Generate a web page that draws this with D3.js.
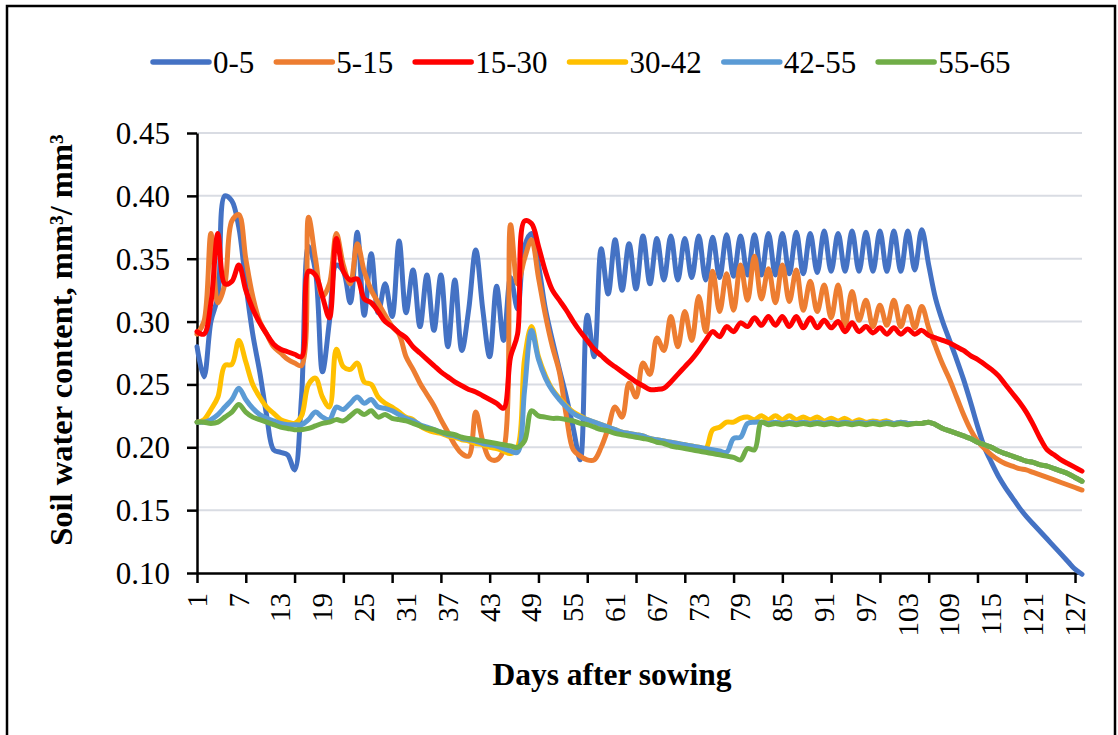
<!DOCTYPE html>
<html>
<head>
<meta charset="utf-8">
<script src="https://cdn.jsdelivr.net/npm/d3@7"></script>
<style>
body { margin: 0; background: #fff; }
text { font-family: "Liberation Serif", "Times New Roman", serif; fill: #000; }
</style>
</head>
<body>
<div id="chart"></div>
<script>
var seriesNames = ["0-5", "5-15", "15-30", "30-42", "42-55", "55-65"];
var seriesColors = ["#4472C4", "#ED7D31", "#FF0000", "#FFC000", "#5B9BD5", "#70AD47"];
var days = d3.range(1, 129);
var labelDays = [1, 7, 13, 19, 25, 31, 37, 43, 49, 55, 61, 67, 73, 79, 85, 91, 97, 103, 109, 115, 121, 127];
var tickDays = [1, 8, 15, 22, 29, 36, 43, 50, 57, 64, 71, 78, 85, 92, 99, 106, 113, 120, 127];
var yTicks = [0.10, 0.15, 0.20, 0.25, 0.30, 0.35, 0.40, 0.45];

var s0_5 = [
	0.280,0.256,0.300,0.320,0.400,0.396,0.375,0.330,0.290,0.260,0.225,0.198,0.196,0.194,0.182,0.240,
	0.360,0.340,0.260,0.300,0.345,0.340,0.315,0.371,0.305,0.354,0.307,0.330,0.304,0.364,0.307,0.341,
	0.296,0.337,0.293,0.337,0.280,0.333,0.277,0.310,0.357,0.310,0.272,0.328,0.285,0.335,0.310,0.360,
	0.370,0.345,0.310,0.285,0.262,0.240,0.215,0.190,0.305,0.272,0.358,0.322,0.365,0.325,0.362,0.326,
	0.368,0.330,0.366,0.333,0.368,0.333,0.366,0.335,0.368,0.333,0.367,0.335,0.369,0.336,0.368,0.337,
	0.369,0.337,0.370,0.337,0.370,0.338,0.371,0.338,0.370,0.339,0.372,0.340,0.370,0.340,0.372,0.340,
	0.371,0.340,0.372,0.340,0.372,0.340,0.372,0.341,0.373,0.345,0.318,0.300,0.285,0.270,0.254,0.236,
	0.217,0.200,0.188,0.177,0.168,0.160,0.152,0.145,0.139,0.133,0.127,0.121,0.115,0.109,0.103,0.099];
var s5_15 = [
	0.290,0.300,0.370,0.315,0.330,0.380,0.385,0.350,0.320,0.300,0.290,0.280,0.275,0.270,0.267,0.265,
	0.383,0.350,0.320,0.330,0.370,0.345,0.330,0.362,0.340,0.325,0.315,0.305,0.296,0.290,0.272,0.262,
	0.251,0.242,0.233,0.222,0.212,0.202,0.195,0.193,0.228,0.205,0.191,0.190,0.198,0.377,0.330,0.350,
	0.365,0.335,0.305,0.280,0.260,0.225,0.198,0.193,0.190,0.190,0.200,0.215,0.232,0.224,0.251,0.240,
	0.267,0.258,0.287,0.277,0.304,0.280,0.308,0.285,0.320,0.292,0.340,0.308,0.338,0.309,0.345,0.317,
	0.352,0.318,0.342,0.315,0.345,0.316,0.341,0.309,0.332,0.308,0.329,0.303,0.329,0.297,0.324,0.301,
	0.317,0.296,0.313,0.297,0.317,0.296,0.312,0.295,0.312,0.295,0.280,0.266,0.254,0.240,0.226,0.214,
	0.205,0.199,0.194,0.190,0.187,0.185,0.183,0.182,0.180,0.178,0.176,0.174,0.172,0.170,0.168,0.166];
var s15_30 = [
	0.292,0.290,0.315,0.370,0.330,0.332,0.345,0.325,0.310,0.299,0.290,0.282,0.278,0.276,0.274,0.272,
	0.340,0.337,0.320,0.303,0.366,0.340,0.333,0.334,0.318,0.315,0.308,0.300,0.296,0.291,0.287,0.280,
	0.275,0.270,0.265,0.260,0.256,0.252,0.249,0.246,0.244,0.241,0.238,0.235,0.231,0.272,0.290,0.380,
	0.378,0.360,0.340,0.325,0.317,0.309,0.300,0.292,0.285,0.278,0.273,0.268,0.264,0.260,0.256,0.252,
	0.249,0.246,0.246,0.247,0.252,0.258,0.264,0.270,0.277,0.285,0.292,0.288,0.296,0.292,0.299,0.296,
	0.303,0.297,0.304,0.297,0.304,0.296,0.304,0.295,0.303,0.295,0.301,0.295,0.300,0.292,0.299,0.292,
	0.296,0.291,0.295,0.290,0.295,0.290,0.294,0.290,0.293,0.289,0.287,0.285,0.283,0.280,0.277,0.273,
	0.270,0.266,0.262,0.257,0.250,0.243,0.236,0.228,0.218,0.207,0.198,0.194,0.190,0.187,0.184,0.181];
var s30_42 = [
	0.220,0.222,0.230,0.240,0.265,0.266,0.285,0.268,0.250,0.240,0.232,0.227,0.222,0.220,0.219,0.225,
	0.250,0.255,0.240,0.232,0.278,0.264,0.262,0.267,0.252,0.250,0.240,0.235,0.232,0.228,0.224,0.222,
	0.217,0.214,0.212,0.211,0.209,0.208,0.206,0.205,0.203,0.202,0.200,0.199,0.197,0.195,0.200,0.270,
	0.296,0.272,0.257,0.246,0.239,0.233,0.228,0.225,0.222,0.220,0.218,0.216,0.214,0.212,0.211,0.210,
	0.209,0.207,0.206,0.205,0.204,0.203,0.202,0.201,0.200,0.199,0.214,0.216,0.220,0.220,0.223,0.224,
	0.222,0.225,0.222,0.225,0.222,0.225,0.222,0.224,0.222,0.224,0.221,0.223,0.221,0.223,0.220,0.222,
	0.220,0.221,0.220,0.221,0.219,0.220,0.219,0.219,0.219,0.220,0.218,0.215,0.213,0.211,0.209,0.207,
	0.204,0.202,0.200,0.197,0.195,0.193,0.191,0.189,0.188,0.186,0.185,0.183,0.181,0.179,0.176,0.173];
var s42_55 = [
	0.220,0.220,0.222,0.226,0.232,0.238,0.247,0.238,0.231,0.226,0.223,0.221,0.219,0.218,0.218,0.218,
	0.222,0.228,0.224,0.222,0.232,0.230,0.235,0.240,0.235,0.238,0.232,0.231,0.229,0.226,0.223,0.221,
	0.218,0.216,0.214,0.212,0.210,0.209,0.207,0.206,0.205,0.203,0.202,0.201,0.199,0.197,0.196,0.245,
	0.293,0.270,0.255,0.245,0.238,0.232,0.227,0.224,0.222,0.220,0.218,0.216,0.214,0.212,0.211,0.210,
	0.209,0.207,0.206,0.205,0.204,0.203,0.202,0.201,0.200,0.199,0.198,0.197,0.196,0.207,0.208,0.219,
	0.220,0.220,0.219,0.220,0.219,0.220,0.219,0.220,0.219,0.220,0.219,0.220,0.219,0.220,0.219,0.220,
	0.219,0.220,0.219,0.220,0.219,0.220,0.219,0.219,0.219,0.220,0.218,0.215,0.213,0.211,0.209,0.207,
	0.204,0.202,0.200,0.197,0.195,0.193,0.191,0.189,0.188,0.186,0.185,0.183,0.181,0.179,0.176,0.173];
var s55_65 = [
	0.220,0.220,0.219,0.220,0.224,0.228,0.234,0.228,0.224,0.222,0.220,0.218,0.216,0.215,0.214,0.214,
	0.215,0.217,0.219,0.220,0.222,0.221,0.225,0.229,0.226,0.229,0.224,0.226,0.223,0.222,0.221,0.219,
	0.217,0.215,0.214,0.212,0.211,0.210,0.208,0.207,0.206,0.205,0.204,0.203,0.202,0.201,0.200,0.205,
	0.229,0.225,0.224,0.223,0.223,0.222,0.221,0.219,0.218,0.216,0.214,0.213,0.211,0.210,0.209,0.208,
	0.207,0.206,0.204,0.203,0.201,0.200,0.199,0.198,0.197,0.196,0.195,0.194,0.193,0.192,0.190,0.199,
	0.198,0.220,0.218,0.219,0.218,0.219,0.218,0.219,0.218,0.219,0.218,0.219,0.218,0.219,0.218,0.219,
	0.218,0.219,0.218,0.219,0.218,0.219,0.218,0.219,0.219,0.220,0.218,0.215,0.213,0.211,0.209,0.207,
	0.204,0.202,0.200,0.197,0.195,0.193,0.191,0.189,0.188,0.186,0.185,0.183,0.181,0.179,0.176,0.173];

var allSeries = [s0_5, s5_15, s15_30, s30_42, s42_55, s55_65];

var width = 1118, height = 735;
var plotLeft = 197, plotRight = 1082, plotTop = 133, plotBottom = 573;

var svg = d3.select("#chart").append("svg")
	.attr("width", width)
	.attr("height", height);

svg.append("rect")
	.attr("width", width).attr("height", height)
	.attr("fill", "#fff");

// outer frame
svg.append("rect")
	.attr("x", 7).attr("y", 6)
	.attr("width", 1108).attr("height", 740)
	.attr("fill", "none")
	.attr("stroke", "#000")
	.attr("stroke-width", 2.5);

var x = d3.scaleLinear().domain([1, 128]).range([plotLeft, plotRight]);
var y = d3.scaleLinear().domain([0.10, 0.45]).range([plotBottom, plotTop]);

// gridlines
svg.append("g")
	.selectAll("line")
	.data(yTicks.slice(1))
	.enter().append("line")
	.attr("x1", plotLeft).attr("x2", plotRight)
	.attr("y1", function (d) { return y(d); })
	.attr("y2", function (d) { return y(d); })
	.attr("stroke", "#D9DCE3")
	.attr("stroke-width", 2);

// y axis
var yAxis = d3.axisLeft(y).tickValues(yTicks).tickFormat(d3.format(".2f")).tickSize(10).tickSizeOuter(0).tickPadding(17);
var gy = svg.append("g")
	.attr("transform", "translate(" + plotLeft + ",0)")
	.call(yAxis);
gy.select(".domain").attr("stroke", "#000").attr("stroke-width", 2.5);
gy.selectAll(".tick line").attr("stroke", "#000").attr("stroke-width", 2.5);
gy.selectAll(".tick text").style("font-size", "31px").attr("dy", "0.34em");

// x axis: tick marks every 7 days, labels every 6 days
var xAxis = d3.axisBottom(x).tickValues(tickDays).tickFormat("").tickSize(10).tickSizeOuter(0);
var gx = svg.append("g")
	.attr("transform", "translate(0," + plotBottom + ")")
	.call(xAxis);
gx.select(".domain").attr("stroke", "#000").attr("stroke-width", 2.5);
gx.selectAll(".tick line").attr("stroke", "#000").attr("stroke-width", 2.5);

svg.append("g")
	.selectAll("text")
	.data(labelDays)
	.enter().append("text")
	.attr("transform", function (d) { return "translate(" + x(d) + "," + (plotBottom + 20) + ") rotate(-90)"; })
	.attr("text-anchor", "end")
	.attr("dy", "0.34em")
	.style("font-size", "29px")
	.text(function (d) { return d; });

// series lines
var line = d3.line()
	.curve(d3.curveCatmullRom.alpha(0.5))
	.x(function (d, i) { return x(days[i]); })
	.y(function (d) { return y(d); });

svg.append("g")
	.selectAll("path")
	.data(allSeries)
	.enter().append("path")
	.attr("d", line)
	.attr("fill", "none")
	.attr("stroke", function (d, i) { return seriesColors[i]; })
	.attr("stroke-width", 5)
	.attr("stroke-linecap", "round")
	.attr("stroke-linejoin", "round");

// legend
var legend = svg.append("g");
var lx = 153;
seriesNames.forEach(function (name, i) {
	legend.append("line")
		.attr("x1", lx).attr("x2", lx + 56)
		.attr("y1", 62).attr("y2", 62)
		.attr("stroke", seriesColors[i])
		.attr("stroke-width", 5.5)
		.attr("stroke-linecap", "round");
	var t = legend.append("text")
		.attr("x", lx + 60).attr("y", 73)
		.style("font-size", "31px")
		.text(name);
	lx += 60 + t.node().getComputedTextLength() + 22;
});

// axis titles
svg.append("text")
	.attr("x", 612).attr("y", 685)
	.attr("text-anchor", "middle")
	.style("font-size", "31.5px")
	.style("font-weight", "bold")
	.text("Days after sowing");

svg.append("text")
	.attr("transform", "translate(72,340) rotate(-90)")
	.attr("text-anchor", "middle")
	.style("font-size", "32.5px")
	.style("font-weight", "bold")
	.text("Soil water content, mm³/ mm³");
</script>
</body>
</html>
